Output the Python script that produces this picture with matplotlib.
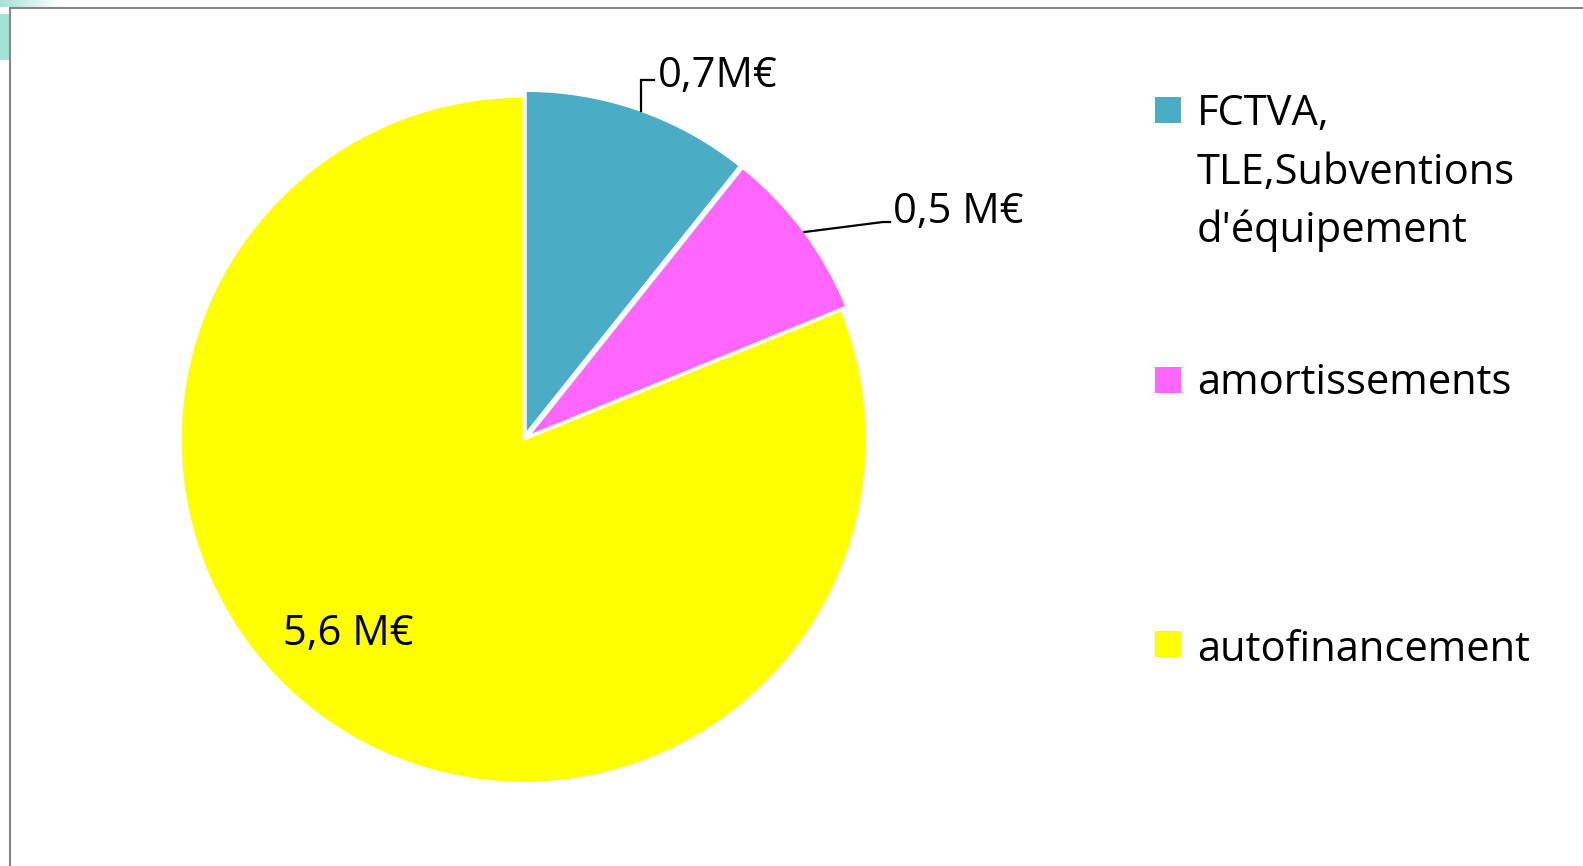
import matplotlib
matplotlib.use("Agg")
import matplotlib.pyplot as plt
import numpy as np
from matplotlib.patches import Rectangle
from matplotlib.lines import Line2D

W, H = 1583, 866

# data (labels as printed)
categories = ["FCTVA,\nTLE,Subventions\nd'équipement", "amortissements", "autofinancement"]
values = [0.74, 0.56, 5.6]
value_labels = ["0,7M€", "0,5 M€", "5,6 M€"]
colors = ["#4BACC6", "#FF66FF", "#FFFF00"]

plt.rcParams['font.family'] = ['Open Sans', 'DejaVu Sans']
FS = 30

fig = plt.figure(figsize=(W / 100, H / 100), dpi=100)

# pixel helpers (origin top-left like the screenshot)
def fx(x):
    return x / W

def fy(y):
    return 1 - y / H

# pie centre and radius in pixels
cx, cy, r = 523.7, 439.7, 343

def to_data(x, y):
    return ((x - cx) / r, (cy - y) / r)

ax = fig.add_axes([(cx - r) / W, (H - cy - r) / H, 2 * r / W, 2 * r / H])
wedges, _ = ax.pie(values, colors=colors, explode=[0.018, 0.018, 0], startangle=90,
                   counterclock=False,
                   wedgeprops=dict(edgecolor='white', linewidth=1.5, clip_on=False))
ax.set_xlim(-1, 1)
ax.set_ylim(-1, 1)
ax.set_aspect('auto')
ax.axis('off')

# data labels with leader lines for the two small slices
anchor_frac = [0.49, 0.49]
elbows = [(642, 80), (883, 222)]
line_ends = [654, 890]
text_pos = [(658, 87), (893, 223), (283, 645)]

for i, w in enumerate(wedges):
    if i < 2:
        a = np.deg2rad(w.theta1 + anchor_frac[i] * (w.theta2 - w.theta1))
        ax0 = w.center[0] + w.r * np.cos(a)
        ay0 = w.center[1] + w.r * np.sin(a)
        ex, ey = to_data(*elbows[i])
        if i == 0:
            ex = ax0
        endx, _ = to_data(line_ends[i], 0)
        ax.plot([ax0, ex, endx], [ay0, ey, ey], color='black', lw=1.6,
                clip_on=False, solid_joinstyle='miter')
    tx, ty = to_data(*text_pos[i])
    ax.text(tx, ty, value_labels[i], fontsize=FS, ha='left', va='baseline',
            color='black', clip_on=False)

# legend drawn by hand (large spacing as in the original)
sq = 26
sq_x = 1155
sq_centres = [110, 380, 644]
txt_x = 1197
baselines = [[125, 184, 242], [394], [661]]
for i, lab in enumerate(categories):
    fig.patches.append(Rectangle((fx(sq_x), fy(sq_centres[i] + sq / 2)), sq / W, sq / H,
                                 transform=fig.transFigure, facecolor=colors[i],
                                 edgecolor='none'))
    for line, by in zip(lab.split("\n"), baselines[i]):
        fig.text(fx(txt_x), fy(by), line, fontsize=FS, ha='left', va='baseline')

# frame of the chart area
fig.add_artist(Line2D([fx(10), fx(10)], [fy(8), fy(H)], color='#878787', lw=1.5,
                      transform=fig.transFigure))
fig.add_artist(Line2D([fx(10), fx(W)], [fy(8), fy(8)], color='#878787', lw=1.5,
                      transform=fig.transFigure))

# bit of slide background peeking at the top-left corner
fig.patches.append(Rectangle((0, fy(60)), fx(9), 46 / H, transform=fig.transFigure,
                             facecolor='#A2E3D6', edgecolor='none'))
gax = fig.add_axes([0, fy(7), fx(60), 7 / H])
gax.imshow(np.linspace(0, 1, 60)[None, :], cmap=matplotlib.colors.LinearSegmentedColormap.from_list(
    'g', ['#A2E3D6', '#FFFFFF']), aspect='auto')
gax.axis('off')

fig.savefig("out.png", dpi=100)
